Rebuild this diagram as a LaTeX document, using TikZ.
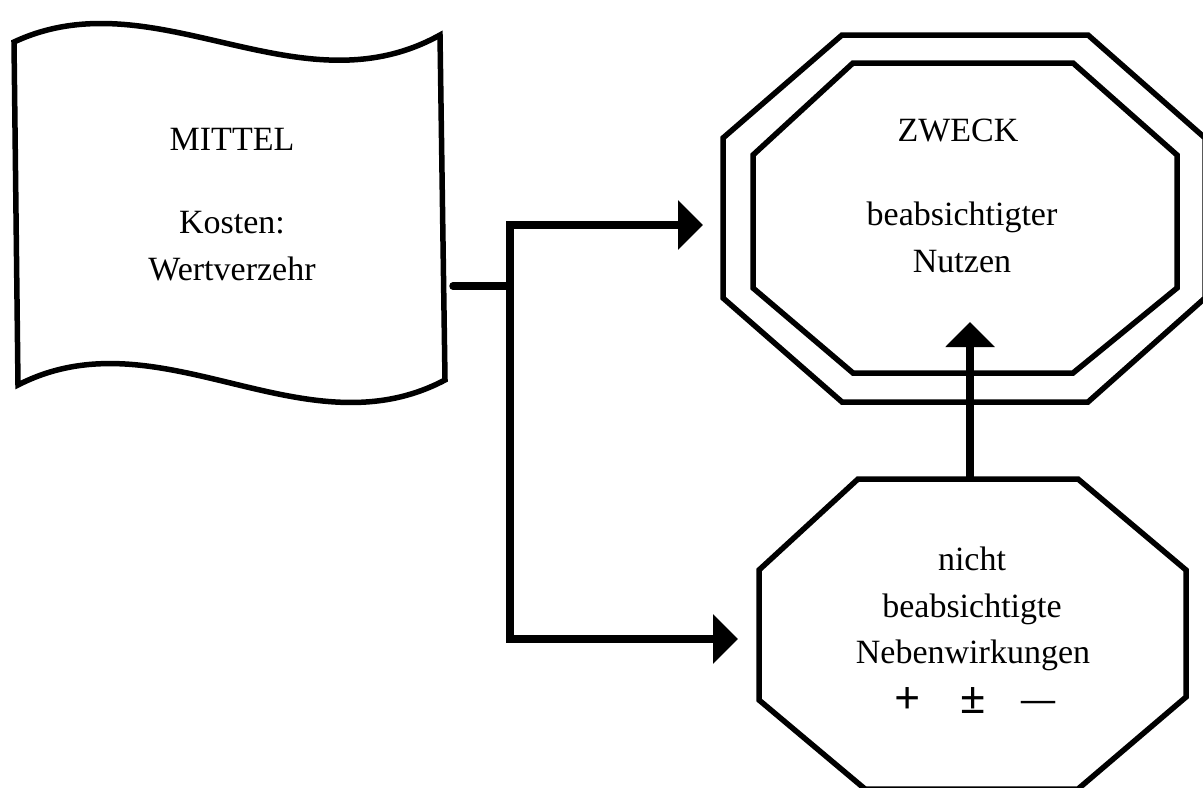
\documentclass[tikz,border=0pt]{standalone}
\usepackage{fontspec}
\setmainfont{Liberation Serif}
\usetikzlibrary{arrows.meta}
\begin{document}
\begin{tikzpicture}[x=0.5pt,y=-0.5pt,
  outline/.style={line width=2.75pt, line join=miter},
  conn/.style={line width=3.75pt, line join=miter},
  arr/.style={-{Triangle[length=12.5pt,width=24pt]}},
  lbl/.style={anchor=base, inner sep=0pt, font=\fontsize{17}{20}\selectfont},
  sign/.style={anchor=base, inner sep=0pt, font=\fontsize{23}{23}\selectfont\bfseries}]
\useasboundingbox (0,0) rectangle (1203,787);

% Mittel: waving sheet
\draw[outline] (14,42) .. controls (155,-24) and (298,114) .. (440,35)
  -- (445,380) .. controls (303,455) and (160,312) .. (18,385) -- cycle;
\node[lbl] (mittel) at (232,150) {MITTEL};
\node[lbl] (kosten) at (232,233) {Kosten:};
\node[lbl] (verzehr) at (232,280) {Wertverzehr};

% Zweck: double octagon
\draw[outline] (723,138) -- (842,35) -- (1088,35) -- (1205,138) -- (1205,298)
  -- (1088,402) -- (842,402) -- (723,298) -- cycle;
\draw[outline] (753,155) -- (853,63) -- (1073,63) -- (1177,155) -- (1177,288)
  -- (1073,373) -- (853,373) -- (753,288) -- cycle;
\node[lbl] (zweck) at (958,141) {ZWECK};
\node[lbl] (beab) at (962,225) {beabsichtigter};
\node[lbl] (nutzen) at (962,272) {Nutzen};

% Nebenwirkungen: octagon
\draw[outline] (759,570) -- (858,479) -- (1078,479) -- (1186,570) -- (1186,697)
  -- (1078,789) -- (865,789) -- (759,700) -- cycle;
\node[lbl] (nicht) at (972,570) {nicht};
\node[lbl] (nbeab) at (972,617) {beabsichtigte};
\node[lbl] (neben) at (973,663) {Nebenwirkungen};
\node[sign] (plus) at (908,713) {+};
\node[sign] (pm) at (973,713) {±};
\node[lbl, font=\fontsize{17}{20}\selectfont\bfseries] (minus) at (1038,710) {—};

% connector ends
\coordinate (stub) at (453,286);
\coordinate (fork) at (510,286);
\coordinate (zweckL) at (703,225);
\coordinate (nebenL) at (738,639);
\coordinate (nebenT) at (970,479);
\coordinate (zweckB) at (970,322);

\draw[conn, line cap=round] (stub) -- (fork);
\draw[conn, arr] (fork) |- (zweckL);
\draw[conn, arr] (fork) |- (nebenL);
\draw[conn, arr] (nebenT) -- (zweckB);
\end{tikzpicture}
\end{document}
